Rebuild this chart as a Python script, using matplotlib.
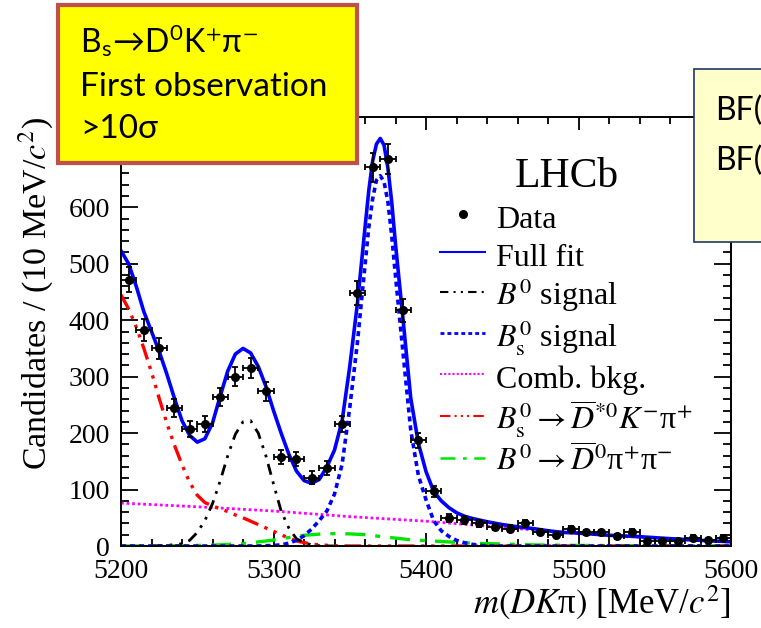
import numpy as np
import matplotlib
matplotlib.use("Agg")
import matplotlib.pyplot as plt
from matplotlib.lines import Line2D
from matplotlib.patches import Rectangle
from matplotlib.ticker import MultipleLocator

plt.rcParams["font.family"] = ["Liberation Serif", "DejaVu Serif"]
plt.rcParams["mathtext.fontset"] = "stix"

# Binned data (10 MeV bins)
bin_width = 10
mass = [5205, 5215, 5225, 5235, 5245, 5255, 5265, 5275, 5285, 5295,
        5305, 5315, 5325, 5335, 5345, 5355, 5365, 5375, 5385, 5395,
        5405, 5415, 5425, 5435, 5445, 5455, 5465, 5475, 5485, 5495,
        5505, 5515, 5525, 5535, 5545, 5555, 5565, 5575, 5585, 5595]
counts = [472, 383, 350, 244, 207, 216, 264, 300, 315, 274,
          158, 154, 121, 138, 216, 449, 671, 686, 418, 187,
          97, 49, 46, 40, 34, 31, 40, 25, 20, 30,
          24, 24, 17, 25, 8, 9, 8, 15, 10, 15]

# Fit components
fit_m = [5200, 5205, 5210, 5215, 5220, 5225, 5230, 5235, 5240, 5245, 5250, 5255,
         5260, 5265, 5270, 5275, 5280, 5285, 5290, 5295, 5300, 5305, 5310, 5315,
         5320, 5325, 5330, 5335, 5340, 5345, 5350, 5355, 5360, 5362.5, 5365,
         5367.5, 5370, 5372.5, 5375, 5377.5, 5380, 5385, 5390, 5395, 5400, 5405,
         5410, 5415, 5420, 5425, 5430, 5440, 5450, 5460, 5470, 5480, 5490, 5500,
         5520, 5540, 5560, 5580, 5600]
fit_v = [523, 500, 460, 415, 380, 345, 305, 262, 222, 196, 184, 190,
         218, 265, 310, 340, 350, 342, 318, 283, 240, 200, 163, 133,
         116, 111, 118, 140, 170, 222, 318, 429, 564, 630, 682,
         712, 722, 710, 670, 610, 535, 400, 262, 182, 132, 97,
         80, 68, 59, 53, 49, 43, 38, 34, 31, 27, 24, 23,
         19, 16.5, 13, 10, 7.5]

b0_m = [5220, 5230, 5240, 5245, 5250, 5255, 5260, 5265, 5270, 5275, 5280, 5285,
        5290, 5295, 5300, 5305, 5310, 5315, 5320, 5325, 5330, 5340]
b0_v = [0, 1, 4, 10, 24, 45, 75, 115, 160, 198, 220, 222,
        200, 160, 110, 62, 32, 13, 6, 2, 0.5, 0]

bs_m = [5200, 5290, 5300, 5305, 5310, 5315, 5320, 5325, 5330, 5335, 5340, 5345,
        5350, 5355, 5360, 5362.5, 5365, 5367.5, 5370, 5372.5, 5375, 5377.5, 5380,
        5385, 5390, 5395, 5400, 5405, 5410, 5415, 5420, 5425, 5430, 5440, 5600]
bs_v = [0, 0, 1, 2, 5, 10, 18, 30, 45, 62, 92, 145,
        245, 360, 497, 565, 615, 648, 656, 645, 610, 550, 478,
        340, 205, 125, 82, 45, 27, 17, 10, 6, 3, 0, 0]

comb_m = [5200, 5250, 5300, 5350, 5400, 5450, 5500, 5550, 5600]
comb_v = [76, 69.5, 62, 52, 44, 33, 22, 14, 7]

dstar_m = [5200, 5205, 5210, 5215, 5220, 5225, 5230, 5235, 5240, 5245, 5250, 5255,
           5260, 5265, 5270, 5275, 5280, 5285, 5290, 5295, 5300, 5305, 5310, 5315,
           5320, 5325, 5330, 5340, 5350, 5600]
dstar_v = [445, 420, 388, 350, 308, 262, 218, 179, 144, 113, 90, 77,
           71, 66, 61, 55, 50, 44, 38, 32, 26, 20, 14, 9,
           6, 3.5, 2, 0.5, 0, 0]

d0pp_m = [5200, 5240, 5260, 5280, 5300, 5310, 5320, 5330, 5340, 5350, 5360, 5370,
          5380, 5390, 5400, 5410, 5430, 5450, 5470, 5500, 5550, 5600]
d0pp_v = [0, 0.5, 1.5, 4, 10.5, 15, 19, 21, 22, 21.5, 20, 17,
          14, 11, 9.5, 8, 5, 3.5, 2, 1, 0.5, 0.2]

legend_labels = ["Data", "Full fit", r"$B^0$ signal", r"$B^0_\mathrm{s}$ signal",
                 "Comb. bkg.",
                 r"$B^0_\mathrm{s}\rightarrow\overline{D}^{*0}K^{-}$π$^{+}$",
                 r"$B^0\rightarrow\overline{D}^{0}$π$^{+}$π$^{-}$"]

W, H = 761, 628
fig = plt.figure(figsize=(W / 100, H / 100), dpi=100)
ax = fig.add_axes([121 / W, 82 / H, 610 / W, 429 / H])

# styles
blue = "#0000ff"
st_b0 = dict(color="black", lw=2, ls=(0, (4, 2.5, 1, 2.5, 1, 2.5)))
st_bs = dict(color=blue, lw=2.6, ls=(0, (1.4, 1.1)))
st_comb = dict(color="#ff00ff", lw=2, ls=(0, (1, 1)))
st_dstar = dict(color="red", lw=2.4, ls=(0, (5, 2, 1, 2, 1, 2, 1, 2)))
st_d0pp = dict(color="#00e600", lw=2.4, ls=(0, (6, 3, 1.5, 3)))

ax.plot(comb_m, comb_v, **st_comb)
ax.plot(d0pp_m, d0pp_v, **st_d0pp)
ax.plot(dstar_m, dstar_v, **st_dstar)
ax.plot(b0_m, b0_v, **st_b0)
ax.plot(bs_m, bs_v, **st_bs)
ax.plot(fit_m, fit_v, color=blue, lw=2.6)

counts_arr = np.array(counts)
ax.errorbar(mass, counts, xerr=bin_width / 2, yerr=np.sqrt(counts_arr), fmt="o",
            ms=5.5, color="black", ecolor="black", elinewidth=1.3, capsize=2.5,
            capthick=1.3, zorder=5)

ax.set_xlim(5200, 5600)
ax.set_ylim(0, 760)
ax.xaxis.set_major_locator(MultipleLocator(100))
ax.xaxis.set_minor_locator(MultipleLocator(20))
ax.yaxis.set_major_locator(MultipleLocator(100))
ax.yaxis.set_minor_locator(MultipleLocator(20))
ax.tick_params(which="both", direction="in", top=True, right=True, width=1.3,
               labelsize=20, labelfontfamily="Liberation Serif")
ax.tick_params(axis="y", which="major", length=12, pad=8)
ax.tick_params(axis="y", which="minor", length=6)
ax.tick_params(axis="x", which="major", length=9.5, pad=9)
ax.tick_params(axis="x", which="minor", length=5)
for s in ax.spines.values():
    s.set_linewidth(1.4)

ax.set_xlabel(r"$m(DK$π$)$ [MeV/$c^{2}$]", fontsize=25, loc="right", labelpad=0)
ax.set_ylabel(r"Candidates / (10 MeV/$c^{2}$)", fontsize=24.5, loc="top", labelpad=10)

ax.text(0.646, 0.837, "LHCb", transform=ax.transAxes, fontsize=30, va="baseline")

handles = [
    Line2D([], [], marker="o", ms=5.5, ls="none", color="black"),
    Line2D([], [], color=blue, lw=1.5),
    Line2D([], [], **dict(st_b0, lw=1.5)),
    Line2D([], [], **dict(st_bs, lw=2)),
    Line2D([], [], **dict(st_comb, lw=1.5)),
    Line2D([], [], **dict(st_dstar, lw=1.5)),
    Line2D([], [], **dict(st_d0pp, lw=1.8)),
]
ax.legend(handles, legend_labels, loc="upper left", bbox_to_anchor=(0.523, 0.805),
          frameon=False, fontsize=23, handlelength=1.42, handletextpad=0.32,
          handleheight=1.2, labelspacing=0.12, borderpad=0, borderaxespad=0)

# annotation boxes on top of the figure
fig.patches.append(Rectangle((58 / W, 1 - 163 / H), 299 / W, 158 / H,
                             transform=fig.transFigure, facecolor="#ffff00",
                             edgecolor="#c0504d", lw=3, zorder=10))
sans = ["Lato", "DejaVu Sans"]
fig.text(80 / W, 1 - 53 / H, r"B$_\mathregular{s}$→D$^\mathregular{0}$K$^{+}$π$^{-}$",
         family=sans, fontsize=23, va="baseline", zorder=11)
fig.text(80 / W, 1 - 96 / H, "First observation", family=sans, fontsize=24,
         va="baseline", zorder=11)
fig.text(80 / W, 1 - 138 / H, ">10σ", family=sans, fontsize=24, va="baseline",
         zorder=11)

fig.patches.append(Rectangle((694 / W, 1 - 242 / H), 0.2, 173 / H,
                             transform=fig.transFigure, facecolor="#ffffcc",
                             edgecolor="#203864", lw=1.2, zorder=10))
fig.text(715 / W, 1 - 120 / H, "BF(", family=sans, fontsize=23, va="baseline",
         zorder=11)
fig.text(715 / W, 1 - 170 / H, "BF(", family=sans, fontsize=23, va="baseline",
         zorder=11)

fig.savefig("out.png", dpi=100)
